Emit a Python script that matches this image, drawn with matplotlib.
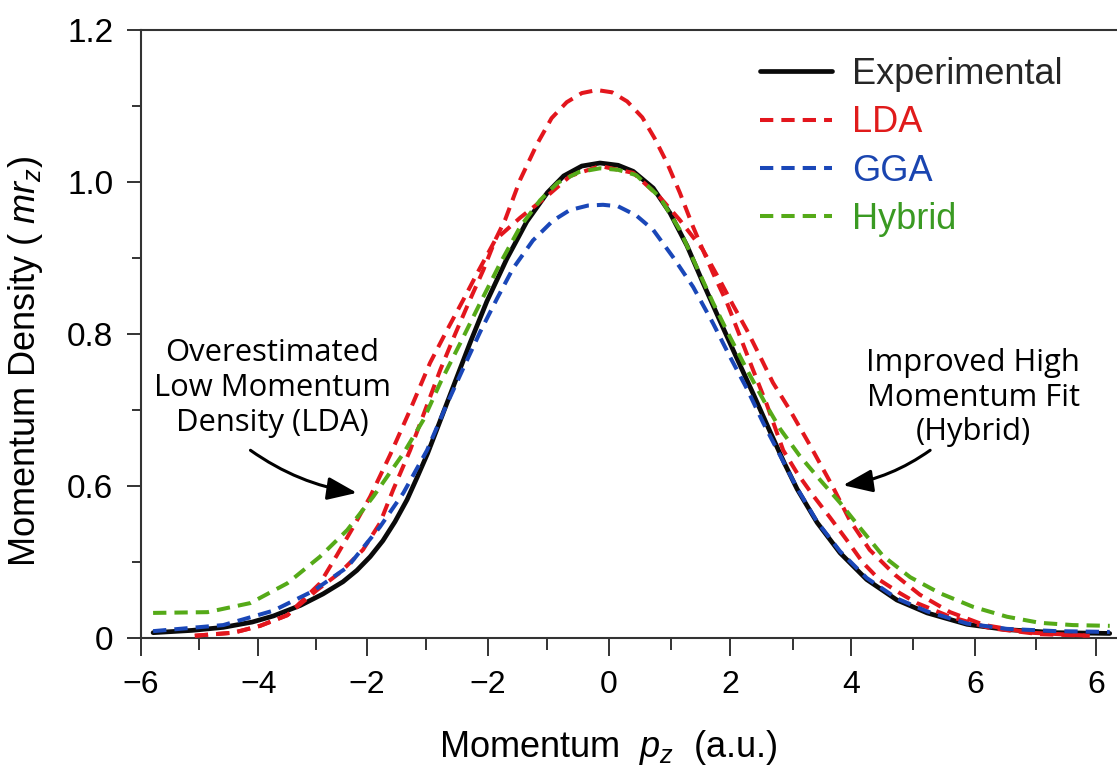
import matplotlib
matplotlib.use("Agg")
import matplotlib.pyplot as plt

plt.rcParams['font.family'] = ['Liberation Sans', 'DejaVu Sans']
plt.rcParams['mathtext.fontset'] = 'custom'
plt.rcParams['mathtext.rm'] = 'Liberation Sans'
plt.rcParams['mathtext.it'] = 'Liberation Sans:italic'

# ---------------- data ----------------
exp_x = [-7.54, -6.9, -6.38, -5.9, -5.55, -5.1, -4.73, -4.4, -4.17, -3.95, -3.74, -3.54, -3.34,
         -3.17, -3.0, -2.84, -2.58, -2.30, -2.02, -1.69, -1.36, -1.02, -0.75, -0.45, -0.15,
         0.15, 0.40, 0.73, 1.01, 1.29, 1.55, 1.83, 2.12, 2.38, 2.66, 2.90, 3.11, 3.44, 3.82,
         4.26, 4.76, 5.26, 5.92, 6.58, 7.40, 8.28]
exp_y = [0.407, 0.410, 0.414, 0.421, 0.429, 0.443, 0.458, 0.474, 0.489, 0.507, 0.528, 0.553, 0.582,
         0.612, 0.643, 0.676, 0.730, 0.788, 0.843, 0.899, 0.948, 0.986, 1.008, 1.021, 1.025,
         1.022, 1.014, 0.992, 0.959, 0.916, 0.868, 0.818, 0.767, 0.722, 0.672, 0.630, 0.596, 0.552, 0.512,
         0.477, 0.450, 0.433, 0.418, 0.411, 0.407, 0.406]

# LDA: tall central peak (narrower flanks)
lda_a_x = [-6.85, -6.21, -5.77, -5.32, -4.83, -4.45, -4.07, -3.79, -3.57, -3.29, -3.04, -2.79,
           -2.55, -2.30, -2.08, -1.88, -1.72, -1.47, -1.19, -0.95, -0.70, -0.45, -0.20, 0.05,
           0.30, 0.55, 0.75, 0.96, 1.17, 1.39, 1.55, 1.72, 1.95, 2.17, 2.38, 2.61, 2.88, 3.11,
           3.37, 3.65, 3.93, 4.20, 4.48, 4.81, 5.09, 5.64, 6.30, 7.12, 7.95]
lda_a_y = [0.403, 0.407, 0.416, 0.430, 0.463, 0.486, 0.516, 0.551, 0.595, 0.647, 0.700, 0.753,
           0.799, 0.845, 0.884, 0.924, 0.950, 1.003, 1.050, 1.084, 1.105, 1.117, 1.121, 1.118,
           1.106, 1.085, 1.058, 1.025, 0.986, 0.941, 0.911, 0.880, 0.841, 0.796, 0.753, 0.707, 0.647, 0.617,
           0.588, 0.559, 0.529, 0.499, 0.476, 0.459, 0.446, 0.428, 0.413, 0.405, 0.403]

# LDA: broad-shouldered branch (follows experiment near the top)
lda_b_x = [-6.85, -6.21, -5.77, -5.32, -4.78, -4.50, -4.23, -3.95, -3.62, -3.29, -2.96, -2.68,
           -2.41, -2.18, -1.88, -1.47, -1.06, -0.64, -0.15, 0.40, 0.84, 1.17, 1.55, 1.83, 2.05,
           2.28, 2.50, 2.71, 2.99, 3.32, 3.70, 3.98, 4.31, 4.73, 5.14, 5.64, 6.21, 6.96, 7.95]
lda_b_y = [0.403, 0.407, 0.416, 0.430, 0.472, 0.509, 0.546, 0.586, 0.641, 0.700, 0.762, 0.805,
           0.845, 0.880, 0.924, 0.953, 0.979, 1.008, 1.021, 1.012, 0.980, 0.950, 0.911, 0.871, 0.838,
           0.805, 0.770, 0.736, 0.700, 0.654, 0.599, 0.555, 0.516, 0.483, 0.457, 0.434, 0.417, 0.407, 0.403]

gga_x = [-7.54, -6.38, -5.55, -4.89, -4.33, -3.79, -3.40, -3.01, -2.68, -2.41, -2.13, -1.85,
         -1.59, -1.26, -0.93, -0.65, -0.35, -0.10, 0.15, 0.45, 0.73, 1.06, 1.39, 1.72, 2.0,
         2.28, 2.55, 2.83, 3.11, 3.44, 3.82, 4.26, 4.76, 5.26, 5.92, 6.58, 7.40, 8.28]
gga_y = [0.409, 0.417, 0.436, 0.462, 0.493, 0.546, 0.591, 0.647, 0.708, 0.755, 0.803, 0.847,
         0.886, 0.923, 0.949, 0.963, 0.969, 0.970, 0.968, 0.956, 0.937, 0.901, 0.862, 0.814, 0.770,
         0.728, 0.683, 0.640, 0.597, 0.553, 0.514, 0.479, 0.452, 0.435, 0.419, 0.412, 0.409, 0.408]

hyb_x = [-7.54, -6.64, -5.93, -5.32, -4.78, -4.33, -3.90, -3.40, -3.07, -2.79, -2.46, -2.13,
         -1.80, -1.47, -1.14, -0.85, -0.50, -0.15, 0.15, 0.45, 0.84, 1.17, 1.45, 1.72, 2.0,
         2.28, 2.61, 2.83, 3.15, 3.49, 3.82, 4.15, 4.53, 4.98, 5.47, 6.02, 6.58, 7.12, 7.67, 8.28]
hyb_y = [0.433, 0.434, 0.446, 0.472, 0.507, 0.542, 0.586, 0.643, 0.687, 0.736, 0.788, 0.841,
         0.893, 0.941, 0.976, 0.999, 1.013, 1.018, 1.016, 1.009, 0.980, 0.937, 0.888, 0.841, 0.796,
         0.753, 0.705, 0.675, 0.640, 0.608, 0.578, 0.545, 0.508, 0.480, 0.459, 0.441, 0.428, 0.420,
         0.417, 0.416]

series_labels = ['Experimental', 'LDA', 'GGA', 'Hybrid']

x_tick_pos = [-7.74, -5.8, -4.0, -2.0, 0.0, 2.0, 4.0, 6.05, 8.05]
x_tick_labels = ['\u22126', '\u22124', '\u22122', '\u22122', '0', '2', '4', '6', '6']
x_minor_pos = [-6.78, -4.84, -3.02, -1.02, 1.02, 3.05, 5.03, 7.06]
y_tick_pos = [0.4, 0.6, 0.8, 1.0, 1.2]
y_tick_labels = ['0', '0.6', '0.8', '1.0', '1.2']
y_minor_pos = [0.5, 0.7, 0.9, 1.1]

note_left = 'Overestimated\nLow Momentum\nDensity (LDA)'
note_right = 'Improved High\nMomentum Fit\n(Hybrid)'

# ---------------- style ----------------
C_EXP = '#0a0a0a'
C_LDA = '#e3161d'
C_GGA = '#1a47b8'
C_HYB = '#55aa18'
T_EXP = '#262626'
T_LDA = '#e01b1b'
T_GGA = '#1a45b0'
T_HYB = '#3a9a22'

W, H = 1117, 767
fig = plt.figure(figsize=(W / 100, H / 100), dpi=100)
ax = fig.add_axes([141 / W, 1 - 638 / H, (W - 141) / W, (638 - 30) / H])

dash = (3.3, 2.0)
ax.plot(exp_x, exp_y, color=C_EXP, lw=3.4, solid_capstyle='round',
        solid_joinstyle='round', zorder=2, label=series_labels[0])
ax.plot(lda_b_x, lda_b_y, color=C_LDA, lw=2.9, dashes=dash, zorder=3)
ax.plot(lda_a_x, lda_a_y, color=C_LDA, lw=2.9, dashes=dash, zorder=3,
        label=series_labels[1])
ax.plot(gga_x, gga_y, color=C_GGA, lw=2.9, dashes=dash, zorder=4,
        label=series_labels[2])
ax.plot(hyb_x, hyb_y, color=C_HYB, lw=2.9, dashes=dash, zorder=5,
        label=series_labels[3])

ax.set_xlim(-7.74, 8.40)
ax.set_ylim(0.4, 1.2)

ax.set_xticks(x_tick_pos)
ax.set_xticklabels(x_tick_labels, fontsize=23)
ax.set_xticks(x_minor_pos, minor=True)
ax.set_yticks(y_tick_pos)
ax.set_yticklabels(y_tick_labels, fontsize=24)
ax.set_yticks(y_minor_pos, minor=True)

ax.tick_params(axis='x', which='major', direction='out', length=13, width=1.4,
               color='#333333', pad=10)
ax.tick_params(axis='x', which='minor', direction='out', length=8.5, width=1.4,
               color='#333333')
ax.tick_params(axis='y', which='major', direction='out', length=10, width=1.4,
               color='#333333', pad=10)
ax.tick_params(axis='y', which='minor', direction='out', length=6.5, width=1.4,
               color='#333333')

for s in ['left', 'bottom', 'top']:
    ax.spines[s].set_color('#333333')
    ax.spines[s].set_linewidth(1.5)
ax.spines['right'].set_visible(False)

ax.set_xlabel('Momentum  $p_z$  (a.u.)', fontsize=26)
ax.xaxis.set_label_coords(0.4785, -0.148)
ax.set_ylabel('Momentum Density ( $mr_{z}$)', fontsize=26)
ax.yaxis.set_label_coords(-0.098, 0.454)

leg = ax.legend(loc='upper left', bbox_to_anchor=(760 / W, 1 - 57 / H),
                bbox_transform=fig.transFigure, frameon=False, fontsize=26,
                handlelength=2.0, handletextpad=0.55, labelspacing=0.37,
                borderpad=0, borderaxespad=0)
for t, c in zip(leg.get_texts(), [T_EXP, T_LDA, T_GGA, T_HYB]):
    t.set_color(c)

afont = dict(family=['Open Sans', 'DejaVu Sans'], fontsize=22.3, color='black',
             ha='center', va='center', linespacing=1.2)
ax.text(-5.57, 0.729, note_left, **afont)
ax.text(6.02, 0.716, note_right, **afont)

aprops = dict(arrowstyle='-|>,head_length=0.9,head_width=0.35', mutation_scale=20,
              lw=2.2, color='black', shrinkA=0, shrinkB=0)
ax.annotate('', xy=(-4.17, 0.591), xytext=(-5.93, 0.647),
            arrowprops=dict(connectionstyle='arc3,rad=0.12', **aprops))
ax.annotate('', xy=(3.87, 0.601), xytext=(5.31, 0.647),
            arrowprops=dict(connectionstyle='arc3,rad=-0.12', **aprops))

fig.savefig('out.png', dpi=100)
